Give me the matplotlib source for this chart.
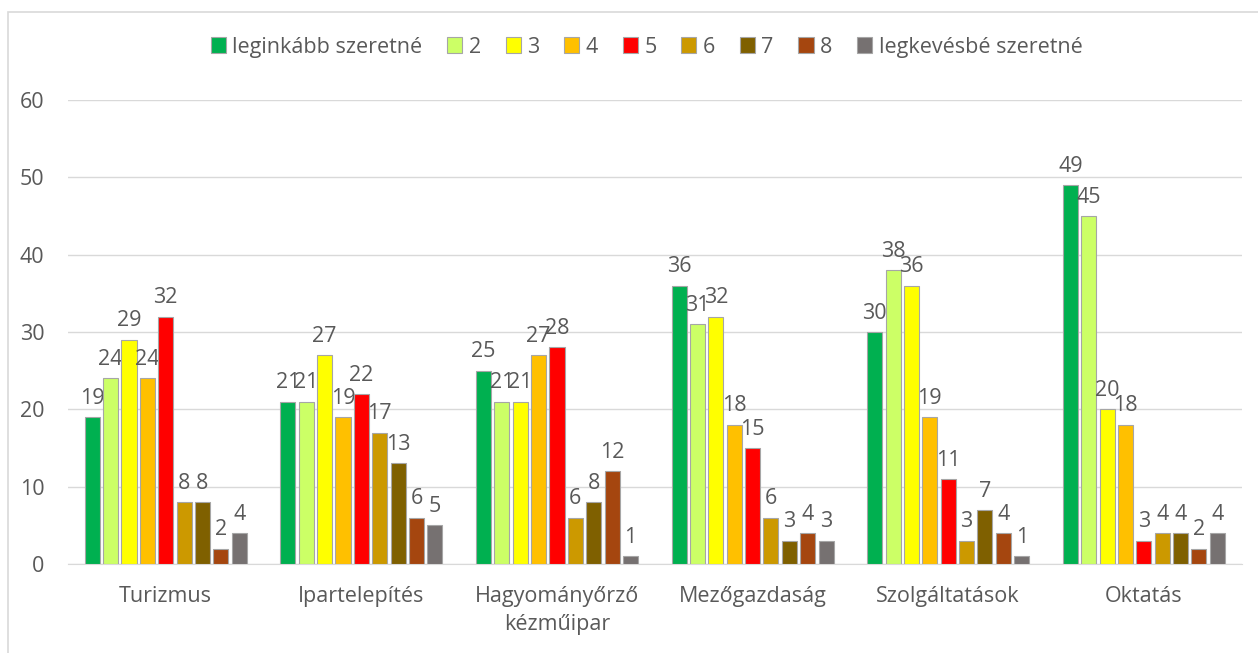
import numpy as np
import matplotlib.pyplot as plt
from matplotlib.patches import Rectangle

plt.rcParams['font.family'] = ['Open Sans', 'DejaVu Sans']

categories = ['Turizmus', 'Ipartelepítés', 'Hagyományőrző\nkézműipar',
              'Mezőgazdaság', 'Szolgáltatások', 'Oktatás']
series_names = ['leginkább szeretné', '2', '3', '4', '5', '6', '7', '8',
                'legkevésbé szeretné']
values = [
    [19, 21, 25, 36, 30, 49],
    [24, 21, 21, 31, 38, 45],
    [29, 27, 21, 32, 36, 20],
    [24, 19, 27, 18, 19, 18],
    [32, 22, 28, 15, 11, 3],
    [8, 17, 6, 6, 3, 4],
    [8, 13, 8, 3, 7, 4],
    [2, 6, 12, 4, 4, 2],
    [4, 5, 1, 3, 1, 4],
]
colors = ['#00B050', '#CCFF66', '#FFFF00', '#FFC000', '#FF0000',
          '#CC9900', '#7F6000', '#A5460F', '#767171']
yticks = [0, 10, 20, 30, 40, 50, 60]

txt = '#595959'
fs = 15.5

fig = plt.figure(figsize=(12.58, 6.53), dpi=100)
ax = fig.add_axes([0.054, 0.1363, 0.933, 0.7106])

# chart frame
fig.patches.append(Rectangle((8 / 1258, -0.1), 1.2, 1 - 12 / 653 + 0.1,
                             transform=fig.transFigure, fill=False,
                             edgecolor='#D9D9D9', linewidth=1.2))

x = np.arange(len(categories))
n = len(series_names)
group = 0.845
w = group / n
for i, (name, vals, c) in enumerate(zip(series_names, values, colors)):
    pos = x - group / 2 + w * (i + 0.5)
    bars = ax.bar(pos, vals, width=w * 0.82, color=c, edgecolor='#A6A6A6',
                  linewidth=0.8, label=name, zorder=3)
    for b, v in zip(bars, vals):
        ax.annotate(str(v), (b.get_x() + b.get_width() / 2, v),
                    xytext=(0, 6), textcoords='offset points',
                    ha='center', va='bottom', fontsize=fs, color=txt)

ax.set_xlim(-0.5, len(categories) - 0.5)
ax.set_ylim(0, 60)
ax.set_yticks(yticks)
ax.set_xticks(x)
ax.set_xticklabels(categories, fontsize=fs, color=txt, linespacing=1.45)
ax.tick_params(axis='y', labelsize=fs, labelcolor=txt, length=0, pad=17)
ax.tick_params(axis='x', length=0, pad=16)
ax.grid(axis='y', color='#D9D9D9', linewidth=1, zorder=0)
for s in ['top', 'right', 'left']:
    ax.spines[s].set_visible(False)
ax.spines['bottom'].set_color('#D9D9D9')

fig.legend(loc='center', bbox_to_anchor=(0.514, 0.928), ncol=n,
           frameon=False, fontsize=fs, labelcolor=txt, handlelength=0.7,
           handleheight=0.7, handletextpad=0.3, columnspacing=1.15)

fig.savefig('out.png', dpi=100)
